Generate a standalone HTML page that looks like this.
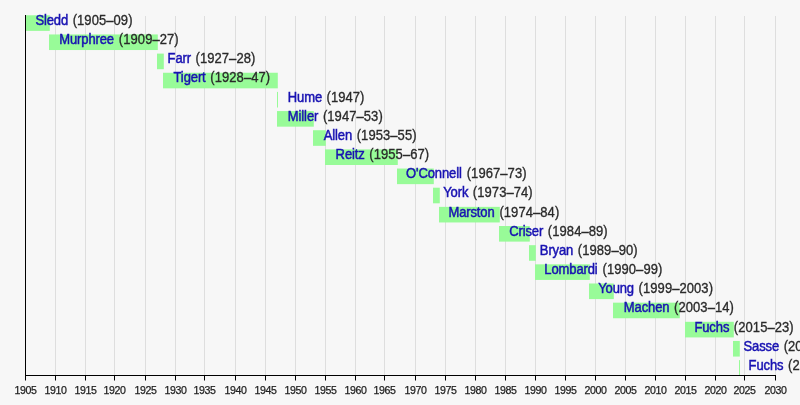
<!DOCTYPE html>
<html><head><meta charset="utf-8"><style>
html,body{margin:0;padding:0;background:#f7f7f7;width:800px;height:405px;overflow:hidden}
svg{display:block}
text{font-family:"Liberation Sans",Arial,sans-serif}
.n{fill:#1812b2;stroke:#1812b2;stroke-width:0.45px;letter-spacing:-0.1px}
.y{fill:#2a2a2a;stroke:#2a2a2a;stroke-width:0.3px;letter-spacing:0.08px}
.ax{fill:#222;stroke:#222;stroke-width:0.25px;letter-spacing:-0.35px}
</style></head><body>
<svg width="800" height="405" viewBox="0 0 800 405">
<rect width="800" height="405" fill="#f7f7f7"/>

<line x1="55.5" y1="16" x2="55.5" y2="375" stroke="#dedede" stroke-width="1"/>
<line x1="85.5" y1="16" x2="85.5" y2="375" stroke="#dedede" stroke-width="1"/>
<line x1="114.5" y1="16" x2="114.5" y2="375" stroke="#dedede" stroke-width="1"/>
<line x1="145.5" y1="16" x2="145.5" y2="375" stroke="#dedede" stroke-width="1"/>
<line x1="175.5" y1="16" x2="175.5" y2="375" stroke="#dedede" stroke-width="1"/>
<line x1="204.5" y1="16" x2="204.5" y2="375" stroke="#dedede" stroke-width="1"/>
<line x1="235.5" y1="16" x2="235.5" y2="375" stroke="#dedede" stroke-width="1"/>
<line x1="265.5" y1="16" x2="265.5" y2="375" stroke="#dedede" stroke-width="1"/>
<line x1="295.5" y1="16" x2="295.5" y2="375" stroke="#dedede" stroke-width="1"/>
<line x1="325.5" y1="16" x2="325.5" y2="375" stroke="#dedede" stroke-width="1"/>
<line x1="355.5" y1="16" x2="355.5" y2="375" stroke="#dedede" stroke-width="1"/>
<line x1="384.5" y1="16" x2="384.5" y2="375" stroke="#dedede" stroke-width="1"/>
<line x1="415.5" y1="16" x2="415.5" y2="375" stroke="#dedede" stroke-width="1"/>
<line x1="445.5" y1="16" x2="445.5" y2="375" stroke="#dedede" stroke-width="1"/>
<line x1="475.5" y1="16" x2="475.5" y2="375" stroke="#dedede" stroke-width="1"/>
<line x1="505.5" y1="16" x2="505.5" y2="375" stroke="#dedede" stroke-width="1"/>
<line x1="535.5" y1="16" x2="535.5" y2="375" stroke="#dedede" stroke-width="1"/>
<line x1="565.5" y1="16" x2="565.5" y2="375" stroke="#dedede" stroke-width="1"/>
<line x1="595.5" y1="16" x2="595.5" y2="375" stroke="#dedede" stroke-width="1"/>
<line x1="625.5" y1="16" x2="625.5" y2="375" stroke="#dedede" stroke-width="1"/>
<line x1="655.5" y1="16" x2="655.5" y2="375" stroke="#dedede" stroke-width="1"/>
<line x1="685.5" y1="16" x2="685.5" y2="375" stroke="#dedede" stroke-width="1"/>
<line x1="715.5" y1="16" x2="715.5" y2="375" stroke="#dedede" stroke-width="1"/>
<line x1="744.5" y1="16" x2="744.5" y2="375" stroke="#dedede" stroke-width="1"/>
<line x1="775.5" y1="16" x2="775.5" y2="375" stroke="#dedede" stroke-width="1"/>
<rect x="25" y="15.28" width="24.8" height="15.6" fill="#98fb98"/>
<rect x="49" y="34.44" width="108.8" height="15.6" fill="#98fb98"/>
<rect x="157" y="53.60" width="6.8" height="15.6" fill="#98fb98"/>
<rect x="163" y="72.75" width="114.8" height="15.6" fill="#98fb98"/>
<rect x="277" y="91.91" width="1" height="15.6" fill="#98fb98"/>
<rect x="277" y="111.07" width="36.8" height="15.6" fill="#98fb98"/>
<rect x="313" y="130.23" width="12.8" height="15.6" fill="#98fb98"/>
<rect x="325" y="149.39" width="72.8" height="15.6" fill="#98fb98"/>
<rect x="397" y="168.54" width="36.8" height="15.6" fill="#98fb98"/>
<rect x="433" y="187.70" width="6.8" height="15.6" fill="#98fb98"/>
<rect x="439" y="206.86" width="60.8" height="15.6" fill="#98fb98"/>
<rect x="499" y="226.02" width="30.8" height="15.6" fill="#98fb98"/>
<rect x="529" y="245.18" width="6.8" height="15.6" fill="#98fb98"/>
<rect x="535" y="264.33" width="54.8" height="15.6" fill="#98fb98"/>
<rect x="589" y="283.49" width="24.8" height="15.6" fill="#98fb98"/>
<rect x="613" y="302.65" width="66.8" height="15.6" fill="#98fb98"/>
<rect x="685" y="321.81" width="48.8" height="15.6" fill="#98fb98"/>
<rect x="733" y="340.97" width="6.8" height="15.6" fill="#98fb98"/>
<rect x="739" y="360.12" width="1" height="15.6" fill="#98fb98"/>
<text transform="translate(35.38 25) scale(1 1.06)" font-size="13"><tspan class="n">Sledd</tspan><tspan class="y" dx="0.90"> (1905–09)</tspan></text>
<text transform="translate(59.22 44) scale(1 1.06)" font-size="13"><tspan class="n">Murphree</tspan><tspan class="y" dx="1.20"> (1909–27)</tspan></text>
<text transform="translate(167.62 63) scale(1 1.06)" font-size="13"><tspan class="n">Farr</tspan><tspan class="y" dx="0.80"> (1927–28)</tspan></text>
<text transform="translate(173.52 82) scale(1 1.06)" font-size="13"><tspan class="n">Tigert</tspan><tspan class="y" dx="1.00"> (1928–47)</tspan></text>
<text transform="translate(287.82 102) scale(1 1.06)" font-size="13"><tspan class="n">Hume</tspan><tspan class="y" dx="0.80"> (1947)</tspan></text>
<text transform="translate(287.82 121) scale(1 1.06)" font-size="13"><tspan class="n">Miller</tspan><tspan class="y" dx="1.00"> (1947–53)</tspan></text>
<text transform="translate(323.73 140) scale(1 1.06)" font-size="13"><tspan class="n">Allen</tspan><tspan class="y" dx="0.90"> (1953–55)</tspan></text>
<text transform="translate(335.62 159) scale(1 1.06)" font-size="13"><tspan class="n">Reitz</tspan><tspan class="y" dx="0.90"> (1955–67)</tspan></text>
<text transform="translate(406.02 178) scale(1 1.06)" font-size="13"><tspan class="n">O&#39;Connell</tspan><tspan class="y" dx="1.30"> (1967–73)</tspan></text>
<text transform="translate(443.25 197) scale(1 1.06)" font-size="13"><tspan class="n">York</tspan><tspan class="y" dx="0.80"> (1973–74)</tspan></text>
<text transform="translate(448.42 217) scale(1 1.06)" font-size="13"><tspan class="n">Marston</tspan><tspan class="y" dx="1.10"> (1974–84)</tspan></text>
<text transform="translate(509.19 236) scale(1 1.06)" font-size="13"><tspan class="n">Criser</tspan><tspan class="y" dx="1.00"> (1984–89)</tspan></text>
<text transform="translate(539.82 255) scale(1 1.06)" font-size="13"><tspan class="n">Bryan</tspan><tspan class="y" dx="0.90"> (1989–90)</tspan></text>
<text transform="translate(544.32 274) scale(1 1.06)" font-size="13"><tspan class="n">Lombardi</tspan><tspan class="y" dx="1.20"> (1990–99)</tspan></text>
<text transform="translate(598.15 293) scale(1 1.06)" font-size="13"><tspan class="n">Young</tspan><tspan class="y" dx="0.90"> (1999–2003)</tspan></text>
<text transform="translate(623.82 312) scale(1 1.06)" font-size="13"><tspan class="n">Machen</tspan><tspan class="y" dx="1.00"> (2003–14)</tspan></text>
<text transform="translate(694.42 332) scale(1 1.06)" font-size="13"><tspan class="n">Fuchs</tspan><tspan class="y" dx="0.90"> (2015–23)</tspan></text>
<text transform="translate(743.48 351) scale(1 1.06)" font-size="13"><tspan class="n">Sasse</tspan><tspan class="y" dx="0.90"> (2023–24)</tspan></text>
<text transform="translate(748.62 370) scale(1 1.06)" font-size="13"><tspan class="n">Fuchs</tspan><tspan class="y" dx="0.90"> (2024–present)</tspan></text>
<line x1="25.5" y1="15.0" x2="25.5" y2="376" stroke="#000" stroke-width="1"/>
<line x1="25" y1="375.5" x2="776" y2="375.5" stroke="#000" stroke-width="1"/>
<line x1="25.5" y1="375" x2="25.5" y2="380.5" stroke="#000" stroke-width="1"/>
<text x="25.5" y="394.0" font-size="10.6" text-anchor="middle" class="ax">1905</text>
<line x1="55.5" y1="375" x2="55.5" y2="380.5" stroke="#000" stroke-width="1"/>
<text x="55.5" y="394.0" font-size="10.6" text-anchor="middle" class="ax">1910</text>
<line x1="85.5" y1="375" x2="85.5" y2="380.5" stroke="#000" stroke-width="1"/>
<text x="85.5" y="394.0" font-size="10.6" text-anchor="middle" class="ax">1915</text>
<line x1="114.5" y1="375" x2="114.5" y2="380.5" stroke="#000" stroke-width="1"/>
<text x="114.5" y="394.0" font-size="10.6" text-anchor="middle" class="ax">1920</text>
<line x1="145.5" y1="375" x2="145.5" y2="380.5" stroke="#000" stroke-width="1"/>
<text x="145.5" y="394.0" font-size="10.6" text-anchor="middle" class="ax">1925</text>
<line x1="175.5" y1="375" x2="175.5" y2="380.5" stroke="#000" stroke-width="1"/>
<text x="175.5" y="394.0" font-size="10.6" text-anchor="middle" class="ax">1930</text>
<line x1="204.5" y1="375" x2="204.5" y2="380.5" stroke="#000" stroke-width="1"/>
<text x="204.5" y="394.0" font-size="10.6" text-anchor="middle" class="ax">1935</text>
<line x1="235.5" y1="375" x2="235.5" y2="380.5" stroke="#000" stroke-width="1"/>
<text x="235.5" y="394.0" font-size="10.6" text-anchor="middle" class="ax">1940</text>
<line x1="265.5" y1="375" x2="265.5" y2="380.5" stroke="#000" stroke-width="1"/>
<text x="265.5" y="394.0" font-size="10.6" text-anchor="middle" class="ax">1945</text>
<line x1="295.5" y1="375" x2="295.5" y2="380.5" stroke="#000" stroke-width="1"/>
<text x="295.5" y="394.0" font-size="10.6" text-anchor="middle" class="ax">1950</text>
<line x1="325.5" y1="375" x2="325.5" y2="380.5" stroke="#000" stroke-width="1"/>
<text x="325.5" y="394.0" font-size="10.6" text-anchor="middle" class="ax">1955</text>
<line x1="355.5" y1="375" x2="355.5" y2="380.5" stroke="#000" stroke-width="1"/>
<text x="355.5" y="394.0" font-size="10.6" text-anchor="middle" class="ax">1960</text>
<line x1="384.5" y1="375" x2="384.5" y2="380.5" stroke="#000" stroke-width="1"/>
<text x="384.5" y="394.0" font-size="10.6" text-anchor="middle" class="ax">1965</text>
<line x1="415.5" y1="375" x2="415.5" y2="380.5" stroke="#000" stroke-width="1"/>
<text x="415.5" y="394.0" font-size="10.6" text-anchor="middle" class="ax">1970</text>
<line x1="445.5" y1="375" x2="445.5" y2="380.5" stroke="#000" stroke-width="1"/>
<text x="445.5" y="394.0" font-size="10.6" text-anchor="middle" class="ax">1975</text>
<line x1="475.5" y1="375" x2="475.5" y2="380.5" stroke="#000" stroke-width="1"/>
<text x="475.5" y="394.0" font-size="10.6" text-anchor="middle" class="ax">1980</text>
<line x1="505.5" y1="375" x2="505.5" y2="380.5" stroke="#000" stroke-width="1"/>
<text x="505.5" y="394.0" font-size="10.6" text-anchor="middle" class="ax">1985</text>
<line x1="535.5" y1="375" x2="535.5" y2="380.5" stroke="#000" stroke-width="1"/>
<text x="535.5" y="394.0" font-size="10.6" text-anchor="middle" class="ax">1990</text>
<line x1="565.5" y1="375" x2="565.5" y2="380.5" stroke="#000" stroke-width="1"/>
<text x="565.5" y="394.0" font-size="10.6" text-anchor="middle" class="ax">1995</text>
<line x1="595.5" y1="375" x2="595.5" y2="380.5" stroke="#000" stroke-width="1"/>
<text x="595.5" y="394.0" font-size="10.6" text-anchor="middle" class="ax">2000</text>
<line x1="625.5" y1="375" x2="625.5" y2="380.5" stroke="#000" stroke-width="1"/>
<text x="625.5" y="394.0" font-size="10.6" text-anchor="middle" class="ax">2005</text>
<line x1="655.5" y1="375" x2="655.5" y2="380.5" stroke="#000" stroke-width="1"/>
<text x="655.5" y="394.0" font-size="10.6" text-anchor="middle" class="ax">2010</text>
<line x1="685.5" y1="375" x2="685.5" y2="380.5" stroke="#000" stroke-width="1"/>
<text x="685.5" y="394.0" font-size="10.6" text-anchor="middle" class="ax">2015</text>
<line x1="715.5" y1="375" x2="715.5" y2="380.5" stroke="#000" stroke-width="1"/>
<text x="715.5" y="394.0" font-size="10.6" text-anchor="middle" class="ax">2020</text>
<line x1="744.5" y1="375" x2="744.5" y2="380.5" stroke="#000" stroke-width="1"/>
<text x="744.5" y="394.0" font-size="10.6" text-anchor="middle" class="ax">2025</text>
<line x1="775.5" y1="375" x2="775.5" y2="380.5" stroke="#000" stroke-width="1"/>
<text x="775.5" y="394.0" font-size="10.6" text-anchor="middle" class="ax">2030</text>
</svg></body></html>
